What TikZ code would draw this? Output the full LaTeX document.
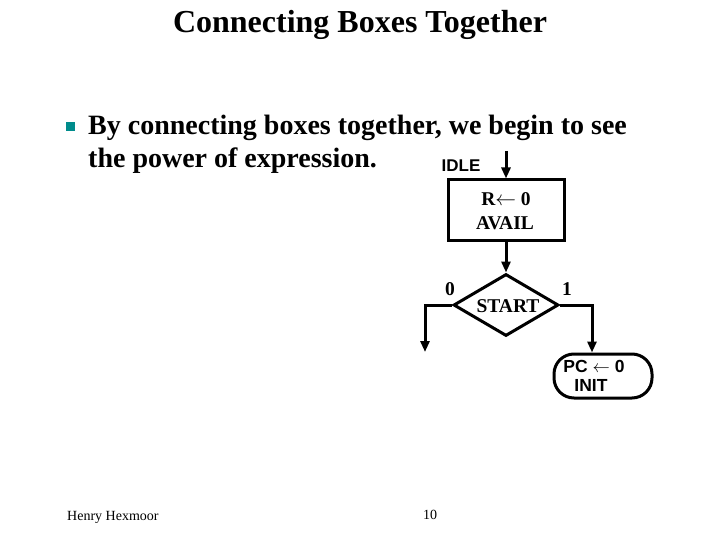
\documentclass[tikz,border=0pt]{standalone}
\usepackage{fontspec}
\setmainfont{Liberation Serif}
\newfontfamily\arialf{Liberation Sans}
\usetikzlibrary{shapes.geometric,arrows.meta}
\definecolor{bullteal}{RGB}{0,140,140}
\begin{document}
\begin{tikzpicture}[x=1pt,y=-1pt,
  flow/.style={line width=3pt,-{Triangle[length=11pt,width=9pt]}},
  lbl/.style={font=\fontsize{19.5}{21}\selectfont\bfseries,inner sep=0pt},
  slbl/.style={font=\arialf\fontsize{17.5}{19}\selectfont\bfseries,inner sep=0pt}]
\useasboundingbox (0,0) rectangle (720,540);
% title
\node[font=\fontsize{32}{36}\selectfont\bfseries,inner sep=0pt] (title) at (360,25) {Connecting Boxes Together};
% bullet
\fill[bullteal] (66,122) rectangle (75,131) coordinate (bul);
\node[anchor=base west,font=\fontsize{28}{33}\selectfont\bfseries,inner sep=0pt] (l1) at (88,135) {By connecting boxes together, we begin to see};
\node[anchor=base west,font=\fontsize{28}{33}\selectfont\bfseries,inner sep=0pt] (l2) at (88,168) {the power of expression.};
% IDLE
\node[slbl,font=\arialf\fontsize{17}{19}\selectfont\bfseries] (idle) at (461,166) {IDLE};
\coordinate (in) at (506,151);
% box
\node[draw,line width=3pt,minimum width=116pt,minimum height=60pt,inner sep=0pt] (box) at (506,210) {};
\node[lbl] (r0) at (506,199) {R$\leftarrow$ 0};
\node[lbl] (avail) at (505,223) {AVAIL};
\draw[flow] (in) -- (box.north);
% diamond
\node[draw,diamond,line width=3pt,minimum width=105pt,minimum height=62pt,inner sep=0pt,aspect=1.7] (dia) at (506,305) {};
\node[lbl] (start) at (508,306) {START};
\draw[flow] (box.south) -- (dia.north);
\node[lbl] (z) at (450,289) {0};
\node[lbl] (o) at (567,289) {1};
% branches
\coordinate (lc) at (425,305);
\coordinate (le) at (425,352);
\draw[flow] (dia.west) -- (lc) -- (le);
\coordinate (rc) at (592,305);
% rounded box
\node[draw,line width=3pt,rounded corners=20pt,minimum width=98pt,minimum height=44pt,inner sep=0pt] (init) at (603,376) {};
\node[slbl] (pc) at (594,366) {PC $\leftarrow$ 0};
\node[slbl] (initt) at (591,385) {INIT};
\draw[flow] (dia.east) -- (rc) -- (rc |- init.north);
% footer
\node[anchor=base west,font=\fontsize{14}{16}\selectfont,inner sep=0pt] (auth) at (67,520) {Henry Hexmoor};
\node[font=\fontsize{14}{16}\selectfont,inner sep=0pt] (pg) at (430,515) {10};
\end{tikzpicture}
\end{document}
